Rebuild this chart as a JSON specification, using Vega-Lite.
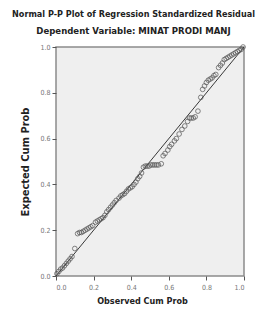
{
  "$schema": "https://vega.github.io/schema/vega-lite/v6.json",
  "width": 188,
  "height": 229,
  "autosize": {"type": "none"},
  "padding": {"left": 56, "top": 47, "right": 14, "bottom": 35},
  "background": "white",
  "config": {
    "font": "DejaVu Sans Condensed, Liberation Sans, sans-serif",
    "view": {"fill": "#efefef", "stroke": "#8c8c8c", "strokeWidth": 1.5}
  },
  "title": {
    "text": "Normal P-P Plot of Regression Standardized Residual",
    "subtitle": "Dependent Variable: MINAT PRODI MANJ",
    "anchor": "middle",
    "frame": "bounds",
    "font": "DejaVu Sans Condensed, Liberation Sans, sans-serif",
    "fontSize": 9,
    "fontWeight": "bold",
    "color": "#222",
    "subtitleFont": "DejaVu Sans Condensed, Liberation Sans, sans-serif",
    "subtitleFontSize": 9.5,
    "subtitleFontWeight": "bold",
    "subtitleColor": "#222",
    "subtitlePadding": 7,
    "offset": 8
  },
  "datasets": {
    "pts": [
      {"obs": 0.005, "exp": 0.01}, {"obs": 0.015, "exp": 0.02}, {"obs": 0.025, "exp": 0.03},
      {"obs": 0.035, "exp": 0.035}, {"obs": 0.045, "exp": 0.045}, {"obs": 0.055, "exp": 0.055},
      {"obs": 0.065, "exp": 0.065}, {"obs": 0.075, "exp": 0.075}, {"obs": 0.085, "exp": 0.085},
      {"obs": 0.1, "exp": 0.12},
      {"obs": 0.115, "exp": 0.185}, {"obs": 0.125, "exp": 0.19}, {"obs": 0.135, "exp": 0.19},
      {"obs": 0.145, "exp": 0.195}, {"obs": 0.155, "exp": 0.2}, {"obs": 0.165, "exp": 0.205},
      {"obs": 0.175, "exp": 0.21}, {"obs": 0.185, "exp": 0.215}, {"obs": 0.195, "exp": 0.22},
      {"obs": 0.21, "exp": 0.235}, {"obs": 0.22, "exp": 0.24}, {"obs": 0.23, "exp": 0.245},
      {"obs": 0.24, "exp": 0.25}, {"obs": 0.25, "exp": 0.255}, {"obs": 0.26, "exp": 0.265},
      {"obs": 0.27, "exp": 0.28}, {"obs": 0.28, "exp": 0.29}, {"obs": 0.29, "exp": 0.3},
      {"obs": 0.3, "exp": 0.31}, {"obs": 0.31, "exp": 0.32}, {"obs": 0.32, "exp": 0.33},
      {"obs": 0.335, "exp": 0.34}, {"obs": 0.345, "exp": 0.35}, {"obs": 0.355, "exp": 0.355},
      {"obs": 0.365, "exp": 0.36}, {"obs": 0.375, "exp": 0.37}, {"obs": 0.385, "exp": 0.38},
      {"obs": 0.395, "exp": 0.385}, {"obs": 0.405, "exp": 0.39}, {"obs": 0.415, "exp": 0.4},
      {"obs": 0.425, "exp": 0.41}, {"obs": 0.435, "exp": 0.425}, {"obs": 0.445, "exp": 0.435},
      {"obs": 0.455, "exp": 0.45}, {"obs": 0.465, "exp": 0.475}, {"obs": 0.475, "exp": 0.48},
      {"obs": 0.485, "exp": 0.48}, {"obs": 0.495, "exp": 0.48}, {"obs": 0.505, "exp": 0.485},
      {"obs": 0.515, "exp": 0.485}, {"obs": 0.525, "exp": 0.485}, {"obs": 0.535, "exp": 0.485},
      {"obs": 0.545, "exp": 0.485}, {"obs": 0.56, "exp": 0.49},
      {"obs": 0.57, "exp": 0.525}, {"obs": 0.58, "exp": 0.535}, {"obs": 0.595, "exp": 0.55},
      {"obs": 0.605, "exp": 0.565}, {"obs": 0.615, "exp": 0.575}, {"obs": 0.63, "exp": 0.59},
      {"obs": 0.64, "exp": 0.6}, {"obs": 0.655, "exp": 0.62}, {"obs": 0.67, "exp": 0.64},
      {"obs": 0.685, "exp": 0.655}, {"obs": 0.7, "exp": 0.675}, {"obs": 0.71, "exp": 0.69},
      {"obs": 0.72, "exp": 0.69}, {"obs": 0.73, "exp": 0.69}, {"obs": 0.74, "exp": 0.695},
      {"obs": 0.755, "exp": 0.72}, {"obs": 0.77, "exp": 0.78}, {"obs": 0.78, "exp": 0.815},
      {"obs": 0.79, "exp": 0.83}, {"obs": 0.8, "exp": 0.845}, {"obs": 0.81, "exp": 0.855},
      {"obs": 0.82, "exp": 0.86}, {"obs": 0.83, "exp": 0.865}, {"obs": 0.84, "exp": 0.875},
      {"obs": 0.85, "exp": 0.88}, {"obs": 0.865, "exp": 0.91}, {"obs": 0.875, "exp": 0.92},
      {"obs": 0.885, "exp": 0.93}, {"obs": 0.895, "exp": 0.945}, {"obs": 0.905, "exp": 0.95},
      {"obs": 0.915, "exp": 0.955}, {"obs": 0.925, "exp": 0.96}, {"obs": 0.935, "exp": 0.965},
      {"obs": 0.945, "exp": 0.97}, {"obs": 0.955, "exp": 0.975}, {"obs": 0.965, "exp": 0.98},
      {"obs": 0.975, "exp": 0.985}, {"obs": 0.985, "exp": 0.99}, {"obs": 0.995, "exp": 1.0}
    ],
    "diag": [{"obs": 0, "exp": 0}, {"obs": 1, "exp": 1}]
  },
  "encoding": {
    "x": {
      "field": "obs", "type": "quantitative",
      "scale": {"domain": [0, 1], "nice": false},
      "axis": {
        "title": "Observed Cum Prob", "values": [0, 0.2, 0.4, 0.6, 0.8, 1.0], "format": ".1f",
        "grid": false, "domain": false, "tickColor": "#555", "tickSize": 4, "labelOverlap": false,
        "labelFontSize": 7, "labelColor": "#777", "labelPadding": 3,
        "titleFontSize": 9, "titleFontWeight": "bold", "titleColor": "#222",
        "titlePadding": 6, "titleX": 86
      }
    },
    "y": {
      "field": "exp", "type": "quantitative",
      "scale": {"domain": [0, 1], "nice": false},
      "axis": {
        "title": "Expected Cum Prob", "values": [0, 0.2, 0.4, 0.6, 0.8, 1.0], "format": ".1f",
        "grid": false, "domain": false, "tickColor": "#555", "tickSize": 4, "labelOverlap": false,
        "labelFontSize": 7, "labelColor": "#777", "labelPadding": 2,
        "titleFontSize": 11, "titleFontWeight": "bold", "titleColor": "#222",
        "titlePadding": 9
      }
    }
  },
  "layer": [
    {
      "data": {"name": "diag"},
      "mark": {"type": "line", "color": "#222", "strokeWidth": 0.9, "clip": true}
    },
    {
      "data": {"name": "pts"},
      "mark": {"type": "point", "shape": "circle", "filled": false, "stroke": "#555", "strokeWidth": 0.8, "size": 22, "opacity": 0.9}
    }
  ]
}
